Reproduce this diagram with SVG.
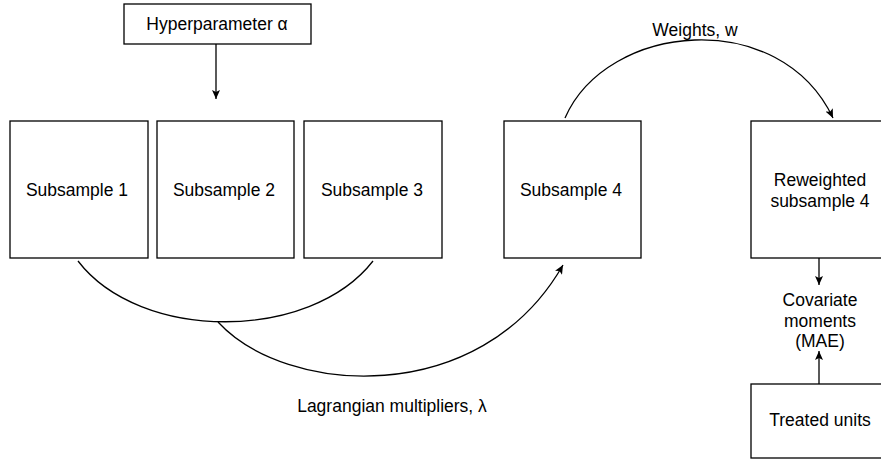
<svg xmlns="http://www.w3.org/2000/svg" width="881" height="462" viewBox="0 0 881 462">
<style>
.box{fill:#fff;stroke:#000;stroke-width:1.3}
.t{font-family:"Liberation Sans",Arial,Helvetica,sans-serif;font-size:17.5px;fill:#000;text-anchor:middle}
.c{fill:none;stroke:#000;stroke-width:1.3}
</style>
<defs>
<marker id="ah" markerUnits="userSpaceOnUse" markerWidth="10" markerHeight="8" refX="9" refY="4" orient="auto">
<path d="M0,0 L9,4 L0,8 L2,4 Z" fill="#000"/>
</marker>
</defs>
<rect width="881" height="462" fill="#fff"/>
<g id="connectors">
<path class="c" d="M216,44 L216,99" marker-end="url(#ah)"/>
<path class="c" d="M565,118 C607,22 780,6 833,118" marker-end="url(#ah)"/>
<path class="c" d="M78,261 C140,342 310,342 373,261"/>
<path class="c" d="M218,322 C285,395 480,410 563,265" marker-end="url(#ah)"/>
<path class="c" d="M819,258 L819,285" marker-end="url(#ah)"/>
<path class="c" d="M819,384 L819,351" marker-end="url(#ah)"/>
</g>
<g id="hyperparameter">
<rect class="box" x="124" y="4" width="187" height="40"/>
<text class="t" x="217" y="30">Hyperparameter α</text>
</g>
<g id="subsample1">
<rect class="box" x="10" y="121" width="138" height="137"/>
<text class="t" x="77" y="196">Subsample 1</text>
</g>
<g id="subsample2">
<rect class="box" x="157" y="121" width="137" height="137"/>
<text class="t" x="224" y="196">Subsample 2</text>
</g>
<g id="subsample3">
<rect class="box" x="304" y="121" width="138" height="137"/>
<text class="t" x="372" y="196">Subsample 3</text>
</g>
<g id="subsample4">
<rect class="box" x="504" y="121" width="137" height="137"/>
<text class="t" x="571" y="196">Subsample 4</text>
</g>
<g id="reweighted">
<rect class="box" x="751" y="121" width="137" height="137"/>
<text class="t" x="820" y="186">Reweighted</text>
<text class="t" x="820" y="207">subsample 4</text>
</g>
<g id="covariate">
<text class="t" x="820" y="306">Covariate</text>
<text class="t" x="820" y="327">moments</text>
<text class="t" x="820" y="347">(MAE)</text>
</g>
<g id="treated">
<rect class="box" x="751" y="384" width="137" height="74"/>
<text class="t" x="820" y="426">Treated units</text>
</g>
<g id="labels">
<text class="t" x="695" y="36">Weights, w</text>
<text class="t" x="392" y="412">Lagrangian multipliers, λ</text>
</g>
</svg>
